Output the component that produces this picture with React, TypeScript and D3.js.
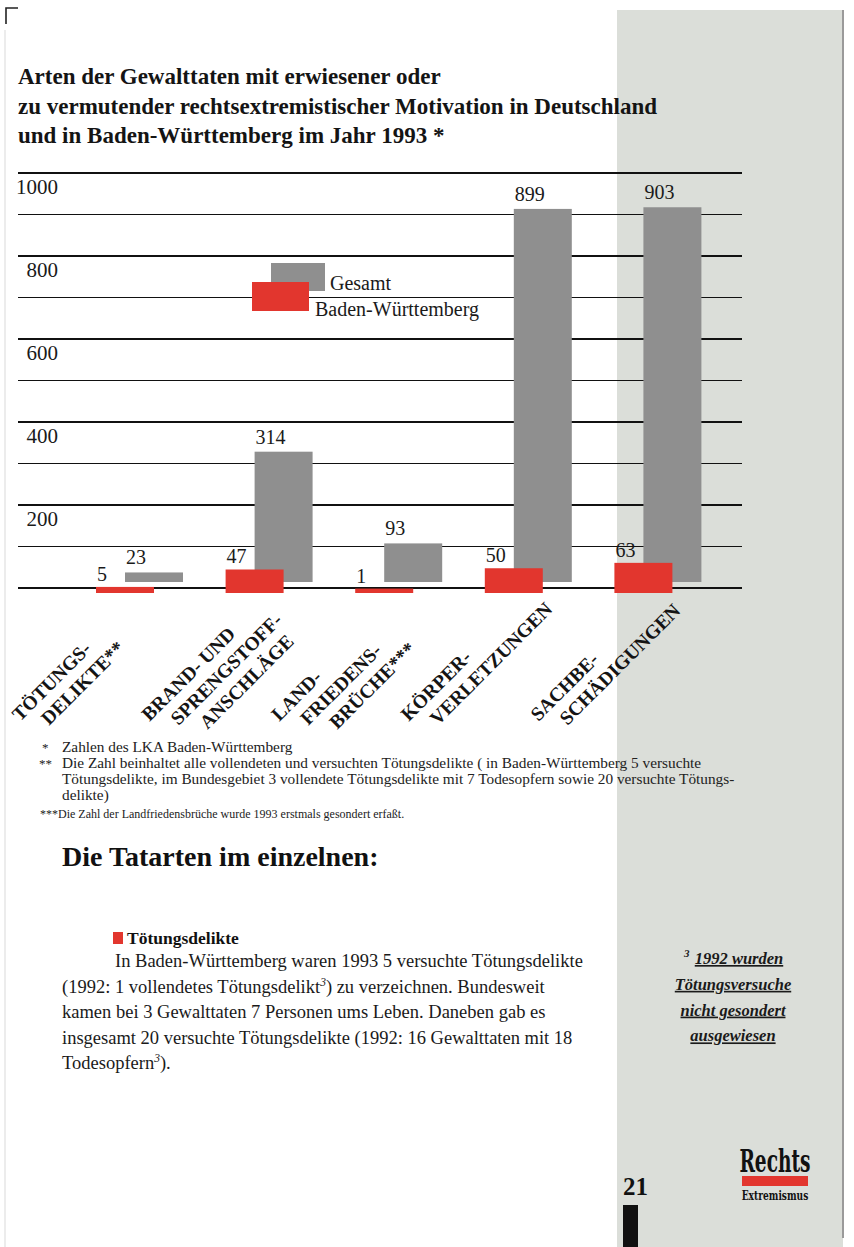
import React from "react";
import * as d3 from "d3";

// ---------- data ----------
const categories = [
  "Tötungsdelikte",
  "Brand- und Sprengstoffanschläge",
  "Landfriedensbrüche",
  "Körperverletzungen",
  "Sachbeschädigungen",
];
const categoryLabelLines = [
  ["TÖTUNGS-", "DELIKTE**"],
  ["BRAND- UND", "SPRENGSTOFF-", "ANSCHLÄGE"],
  ["LAND-", "FRIEDENS-", "BRÜCHE***"],
  ["KÖRPER-", "VERLETZUNGEN"],
  ["SACHBE-", "SCHÄDIGUNGEN"],
];
const gesamtValues = [23, 314, 93, 899, 903];
const bwValues = [5, 47, 1, 50, 63];
const seriesNames = ["Gesamt", "Baden-Württemberg"];
const yTickValues = [1000, 800, 600, 400, 200];
const gridMajor = [0, 200, 400, 600, 800, 1000];
const gridMinor = [100, 300, 500, 700, 900];

const titleLines = [
  "Arten der Gewalttaten mit erwiesener oder",
  "zu vermutender rechtsextremistischer Motivation  in Deutschland",
  "und in Baden-Württemberg im Jahr 1993 *",
];
const footnoteMarks = ["*", "**", "", "", ""];
const footnoteTexts = [
  "Zahlen des LKA Baden-Württemberg",
  "Die Zahl beinhaltet alle vollendeten und versuchten Tötungsdelikte ( in Baden-Württemberg 5 versuchte",
  "Tötungsdelikte, im Bundesgebiet 3 vollendete Tötungsdelikte mit 7 Todesopfern sowie 20 versuchte Tötungs-",
  "delikte)",
  "***Die Zahl der Landfriedensbrüche wurde 1993 erstmals gesondert erfaßt.",
];
const sectionHeading = "Die Tatarten im einzelnen:";
const subHeading = "Tötungsdelikte";
// body lines: [text before superscript, superscript, text after]
const bodyLines: [string, string, string][] = [
  ["In Baden-Württemberg waren 1993 5 versuchte Tötungsdelikte", "", ""],
  ["(1992: 1 vollendetes Tötungsdelikt", "3", ") zu verzeichnen. Bundesweit"],
  ["kamen bei 3 Gewalttaten 7 Personen ums Leben. Daneben gab es", "", ""],
  ["insgesamt 20 versuchte Tötungsdelikte (1992: 16 Gewalttaten mit 18", "", ""],
  ["Todesopfern", "3", ")."],
];
const sideNoteLines = ["1992 wurden", "Tötungsversuche", "nicht gesondert", "ausgewiesen"];
const pageNumber = "21";

// ---------- styles ----------
const W = 854;
const H = 1247;
const GREY = "#8f8f8f";
const RED = "#e2362e";
const SIDEBAR = "#dbded9";
const SERIF = "'Liberation Serif', 'Times New Roman', serif";

export default function App() {
  const y = d3.scaleLinear().domain([0, 1000]).range([588, 173]);
  const x = d3
    .scaleBand<string>()
    .domain(categories)
    .range([96, 672.4])
    .paddingInner(0.5525)
    .paddingOuter(0);
  const bw = x.bandwidth();
  const greyShift = bw / 2;
  const greyLift = 6;
  const redDrop = 5;

  return (
    <svg
      width={W}
      height={H}
      viewBox={`0 0 ${W} ${H}`}
      style={{ position: "absolute", left: 0, top: 0, display: "block", background: "#fff" }}
      fontFamily={SERIF}
    >
      <rect x={0} y={0} width={W} height={H} fill="#ffffff" />
      {/* sidebar */}
      <rect x={617} y={10} width={226} height={H - 10} fill={SIDEBAR} />
      <rect x={842} y={10} width={2} height={1228} fill="#9a9a9a" />
      {/* page edge + corner mark */}
      <line x1={5} y1={30} x2={5} y2={H} stroke="#e6e6e6" strokeWidth={1.5} />
      <path d="M6,24 L6,8 L18,8" fill="none" stroke="#222" strokeWidth={1.6} />

      {/* title */}
      {titleLines.map((t, i) => (
        <text key={t} x={18} y={84 + i * 29.5} fontSize={23} fontWeight="bold" fill="#141414">
          {t}
        </text>
      ))}

      {/* grid */}
      {gridMajor.map((v) => (
        <line key={"M" + v} x1={18} x2={742} y1={y(v)} y2={y(v)} stroke="#111" strokeWidth={2} />
      ))}
      {gridMinor.map((v) => (
        <line key={"m" + v} x1={18} x2={742} y1={y(v)} y2={y(v)} stroke="#111" strokeWidth={1.2} />
      ))}
      {yTickValues.map((v) => (
        <text key={"t" + v} x={58} y={y(v) + 21} fontSize={21} textAnchor="end" fill="#1a1a1a">
          {v}
        </text>
      ))}

      {/* bars: Gesamt (behind) */}
      {categories.map((c, i) => (
        <rect
          key={"g" + c}
          x={(x(c) as number) + greyShift}
          y={y(gesamtValues[i]) - greyLift}
          width={bw}
          height={y(0) - y(gesamtValues[i])}
          fill={GREY}
        />
      ))}
      {/* bars: Baden-Württemberg (front) */}
      {categories.map((c, i) => (
        <rect
          key={"r" + c}
          x={x(c) as number}
          y={y(bwValues[i]) + 1}
          width={bw}
          height={y(0) - y(bwValues[i]) + redDrop - 1}
          fill={RED}
        />
      ))}
      {/* value labels */}
      {categories.map((c, i) => (
        <text
          key={"vg" + c}
          x={(x(c) as number) + greyShift + 1}
          y={y(gesamtValues[i]) - greyLift - 8}
          fontSize={20}
          fill="#1a1a1a"
        >
          {gesamtValues[i]}
        </text>
      ))}
      {categories.map((c, i) => (
        <text
          key={"vr" + c}
          x={(x(c) as number) + 1}
          y={y(bwValues[i]) - 5}
          fontSize={20}
          fill="#1a1a1a"
        >
          {bwValues[i]}
        </text>
      ))}

      {/* legend */}
      <rect x={271} y={263} width={54} height={28} fill={GREY} />
      <rect x={252} y={282} width={57} height={29} fill={RED} />
      <text x={330} y={290} fontSize={20} fill="#1a1a1a">
        {seriesNames[0]}
      </text>
      <text x={315} y={316} fontSize={20} fill="#1a1a1a">
        {seriesNames[1]}
      </text>

      {/* category labels */}
      {categories.map((c, i) =>
        categoryLabelLines[i].map((line, j) => {
          const x0 = (x(c) as number) - 76 + j * 29;
          const y0 = 722 + j * 4;
          return (
            <text
              key={c + j}
              transform={`translate(${x0},${y0}) rotate(-45)`}
              fontSize={19.5}
              fontWeight="bold"
              fill="#141414"
            >
              {line}
            </text>
          );
        })
      )}

      {/* footnotes */}
      {footnoteTexts.map((t, i) => {
        const yy = 752 + i * 16 + (i === 4 ? 2 : 0);
        const fs = i === 4 ? 12 : 15.3;
        return (
          <g key={"fn" + i}>
            {footnoteMarks[i] && (
              <text x={footnoteMarks[i].length > 1 ? 39 : 42} y={yy} fontSize={13} fill="#222">
                {footnoteMarks[i]}
              </text>
            )}
            <text x={i === 4 ? 40 : 62} y={yy} fontSize={fs} fill="#222">
              {t}
            </text>
          </g>
        );
      })}

      {/* section heading */}
      <text x={62} y={866} fontSize={28} fontWeight="bold" fill="#111">
        {sectionHeading}
      </text>
      <rect x={113} y={932} width={10} height={12} fill={RED} />
      <text x={127} y={944} fontSize={17.5} fontWeight="bold" fill="#111">
        {subHeading}
      </text>

      {/* body paragraph */}
      {bodyLines.map((ln, i) => (
        <text key={"b" + i} x={i === 0 ? 115 : 62} y={967 + i * 25.6} fontSize={18.5} fill="#1a1a1a">
          {ln[0]}
          {ln[1] && (
            <tspan fontSize={11.5} fontStyle="italic" dy={-7}>
              {ln[1]}
            </tspan>
          )}
          {ln[2] && <tspan dy={ln[1] ? 7 : 0}>{ln[2]}</tspan>}
        </text>
      ))}

      {/* side note */}
      {sideNoteLines.map((t, i) => (
        <text
          key={"s" + i}
          x={i === 0 ? 739 : 733}
          y={964 + i * 25.8}
          fontSize={16.5}
          fontWeight="bold"
          fontStyle="italic"
          textAnchor="middle"
          fill="#1a1a1a"
          style={{ textDecoration: "underline" }}
        >
          {t}
        </text>
      ))}
      <text x={684} y={957} fontSize={11} fontWeight="bold" fontStyle="italic" fill="#1a1a1a">
        3
      </text>

      {/* page number + logo */}
      <text x={623} y={1195} fontSize={25} fontWeight="bold" fill="#111">
        {pageNumber}
      </text>
      <rect x={623} y={1205} width={15} height={42} fill="#111" />
      <text x={775} y={1172} fontSize={31} fontWeight="bold" textAnchor="middle" fill="#111"
        fontFamily="'DejaVu Serif', serif" transform="translate(775,0) scale(0.6,1) translate(-775,0)">
        Rechts
      </text>
      <rect x={742} y={1176} width={66} height={10} fill={RED} />
      <text x={775} y={1200} fontSize={13} fontWeight="bold" textAnchor="middle" fill="#111"
        fontFamily="'DejaVu Serif', serif" transform="translate(775,0) scale(0.7,1) translate(-775,0)">
        Extremismus
      </text>
    </svg>
  );
}
